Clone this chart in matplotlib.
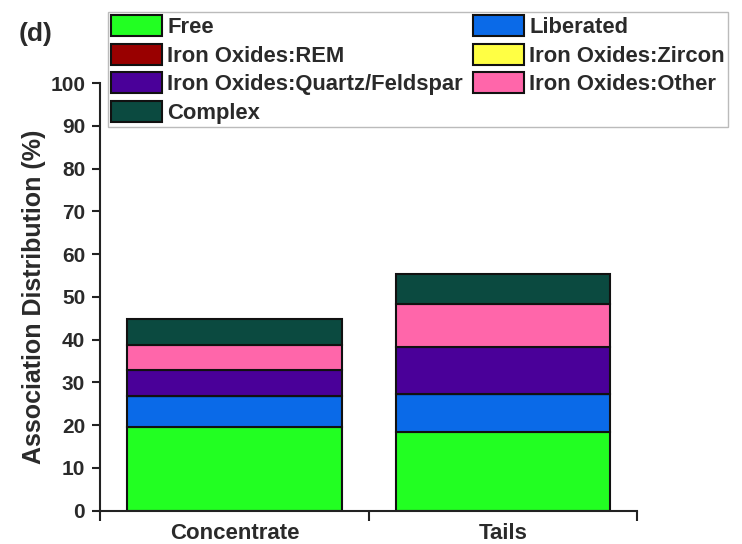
import numpy as np
import matplotlib
matplotlib.use('Agg')
import matplotlib.pyplot as plt

plt.rcParams['font.family'] = ['Liberation Sans', 'DejaVu Sans']
plt.rcParams['font.weight'] = 'bold'

# data
samples = ['Concentrate', 'Tails']
free = [19.5, 18.3]
liberated = [7.3, 9.0]
iron_rem = [0.0, 0.0]
iron_zircon = [0.0, 0.0]
iron_qf = [6.2, 10.9]
iron_other = [5.8, 10.1]
complex_ = [6.0, 7.1]

series = [
    ('Free', free, '#22ff22'),
    ('Liberated', liberated, '#0a6ae8'),
    ('Iron Oxides:REM', iron_rem, '#990000'),
    ('Iron Oxides:Zircon', iron_zircon, '#ffff44'),
    ('Iron Oxides:Quartz/Feldspar', iron_qf, '#4a0099'),
    ('Iron Oxides:Other', iron_other, '#ff66aa'),
    ('Complex', complex_, '#0b4a40'),
]

fig = plt.figure(figsize=(7.42, 5.44), dpi=100)
ax = fig.add_axes([0.1354, 0.0612, 0.7231, 0.7862])

x = np.arange(len(samples))
bottom = np.zeros(len(samples))
handles = {}
for name, vals, color in series:
    vals = np.array(vals)
    b = ax.bar(x, vals, 0.8, bottom=bottom, color=color, edgecolor='#111111',
               linewidth=1.5, label=name)
    handles[name] = b
    bottom += vals

ax.set_xlim(-0.5, 1.5)
ax.set_ylim(0, 100)
ax.set_yticks(np.arange(0, 101, 10))
ax.set_xticks([-0.5, 0.5, 1.5])
ax.set_xticklabels([])
ax.set_xticks(x, minor=True)
ax.set_xticklabels(samples, minor=True)
ax.tick_params(axis='x', which='minor', length=0, pad=9, labelsize=16, labelcolor='#2a2a2a')
ax.tick_params(axis='x', which='major', direction='out', length=7, width=1.5, color='#222222')
ax.tick_params(axis='y', direction='out', length=6, width=1.5, color='#222222', pad=5,
               labelsize=15, labelcolor='#2a2a2a')
for lbl in ax.get_xticklabels(minor=True) + ax.get_yticklabels():
    lbl.set_fontweight('bold')

for side in ['top', 'right']:
    ax.spines[side].set_visible(False)
for side in ['left', 'bottom']:
    ax.spines[side].set_linewidth(1.5)
    ax.spines[side].set_color('#222222')

ax.set_ylabel('Association Distribution (%)', fontsize=18, fontweight='bold',
              color='#2a2a2a', labelpad=3)

# legend reads row by row: matplotlib fills columns, so reorder
order = ['Free', 'Iron Oxides:REM', 'Iron Oxides:Quartz/Feldspar', 'Complex',
         'Liberated', 'Iron Oxides:Zircon', 'Iron Oxides:Other']
leg = fig.legend([handles[n] for n in order], order, loc='upper left',
                 bbox_to_anchor=(108 / 742, 1 - 128 / 544, 620 / 742, 116 / 544),
                 mode='expand', ncol=2, fontsize=15.8, frameon=True, fancybox=False,
                 borderpad=0.15, labelspacing=0.25, handlelength=2.3, handleheight=1.1,
                 handletextpad=0.25, columnspacing=0.3, borderaxespad=0)
leg.get_frame().set_edgecolor('#aaaaaa')
leg.get_frame().set_linewidth(1.0)
for t in leg.get_texts():
    t.set_color('#2a2a2a')
    t.set_fontweight('bold')

fig.text(0.025, 0.925, '(d)', fontsize=19, fontweight='bold', color='#2a2a2a')

fig.savefig('out.png', dpi=100)
